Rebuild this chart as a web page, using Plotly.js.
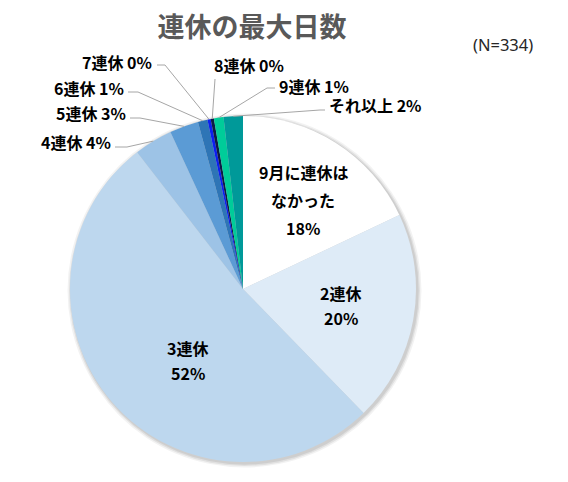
<!DOCTYPE html>
<html>
<head>
<meta charset="utf-8">
<script src="https://cdn.plot.ly/plotly-3.0.1.min.js"></script>
<style>html,body{margin:0;padding:0;background:#fff;}#chart{width:568px;height:482px;}</style>
</head>
<body>
<div id="chart"></div>
<script>
// ---- data ----
const categories = ["9月に連休はなかった", "2連休", "3連休", "4連休", "5連休", "6連休", "7連休", "8連休", "9連休", "それ以上"];
const counts = [60, 66, 173, 12, 9, 3, 1, 1, 3, 6];   // N=334
const sliceColors = ["#ffffff", "#deebf7", "#bdd7ee", "#9dc3e6", "#5b9bd5", "#2e75b6", "#0b1ff0", "#0d1b45", "#00cc99", "#009999"];
const displayLines = [["9月に連休は", "なかった"], ["2連休"], ["3連休"], ["4連休"], ["5連休"], ["6連休"], ["7連休"], ["8連休"], ["9連休"], ["それ以上"]];
const chartTitle = "連休の最大日数";
const sampleNote = "(N=334)";

// ---- layout geometry (pixels) ----
const W = 568, H = 482;
const CX = 243, CY = 289, R = 173;
const px = x => x / W;
const py = y => 1 - y / H;

const total = counts.reduce((a, b) => a + b, 0);
const pctText = v => Math.round(100 * v / total) + "%";
const midAngle = [];
let acc = 0;
counts.forEach(v => { midAngle.push(2 * Math.PI * (acc + v / 2) / total); acc += v; });
const ptAt = (i, f) => [CX + R * f * Math.sin(midAngle[i]), CY - R * f * Math.cos(midAngle[i])];

const FONT = "Noto Sans CJK JP, Noto Sans, sans-serif";
const LFS = 16;
const annotations = [];
const shapes = [];

// inside labels (multi-line, custom spacing)
const inside = [
  {i: 0, f: 0.62, dx: 3, dy: 2, gap: 28},
  {i: 1, f: 0.62, dx: -8, dy: -3, gap: 25},
  {i: 2, f: 0.62, dx: 26, dy: 1, gap: 25}
];
inside.forEach(o => {
  const [x0, y0] = ptAt(o.i, o.f);
  const lines = displayLines[o.i].concat([pctText(counts[o.i])]);
  const n = lines.length;
  lines.forEach((t, k) => {
    const y = y0 + o.dy + (k - (n - 1) / 2) * o.gap;
    annotations.push({xref: "paper", yref: "paper", x: px(x0 + o.dx), y: py(y), text: t, showarrow: false,
      xanchor: "center", yanchor: "middle", font: {family: FONT, size: LFS, color: "#000", weight: "bold"}});
  });
});

// outside labels with leader lines
const outside = [
  {i: 3, tx: 113, ty: 142, side: "right", elbow: [127, 147], end: [115, 147]},
  {i: 4, tx: 128, ty: 113, side: "right", elbow: [140, 118], end: [130, 118]},
  {i: 5, tx: 126, ty: 88, side: "right", elbow: [138, 92], end: [128, 92]},
  {i: 6, tx: 154, ty: 62, side: "right", elbow: [165, 65], end: [157, 65]},
  {i: 7, tx: 212, ty: 65, side: "left", elbow: [215, 79], end: [215, 79]},
  {i: 8, tx: 277, ty: 86, side: "left", elbow: [267, 88], end: [275, 88]},
  {i: 9, tx: 327, ty: 105, side: "left", elbow: [320, 110], end: [325, 110]}
];
outside.forEach(o => {
  const [ex, ey] = ptAt(o.i, 1.0);
  annotations.push({xref: "paper", yref: "paper", x: px(o.tx), y: py(o.ty),
    text: displayLines[o.i][0] + " " + pctText(counts[o.i]), showarrow: false,
    xanchor: o.side, yanchor: "middle", font: {family: FONT, size: LFS, color: "#000", weight: "bold"}});
  const p = "M " + px(ex) + "," + py(ey) + " L " + px(o.elbow[0]) + "," + py(o.elbow[1]) + " L " + px(o.end[0]) + "," + py(o.end[1]);
  shapes.push({type: "path", xref: "paper", yref: "paper", path: p, line: {color: "#a6a6a6", width: 1}, layer: "above"});
});

// soft shadow around the pie
[[4, "rgba(0,0,0,0.05)"], [2.5, "rgba(0,0,0,0.07)"], [1.2, "rgba(0,0,0,0.08)"]].forEach(([s, c]) => {
  shapes.push({type: "circle", xref: "paper", yref: "paper", layer: "below",
    x0: px(CX - R - s + 1.5), x1: px(CX + R + s + 1.5), y0: py(CY + R + s + 1.5), y1: py(CY - R - s + 1.5),
    fillcolor: c, line: {width: 0}});
});

annotations.push({xref: "paper", yref: "paper", x: px(471), y: py(44), text: sampleNote, showarrow: false,
  xanchor: "left", yanchor: "middle", font: {family: "Noto Sans, sans-serif", size: 16.5, color: "#262626"}});

const trace = {
  type: "pie",
  labels: categories,
  values: counts,
  sort: false,
  direction: "clockwise",
  rotation: 0,
  textinfo: "none",
  hoverinfo: "none",
  marker: {colors: sliceColors, line: {color: "#ffffff", width: 0}},
  domain: {x: [px(CX - R), px(CX + R)], y: [py(CY + R), py(CY - R)]},
  showlegend: false
};

const layout = {
  width: W, height: H,
  margin: {l: 0, r: 0, t: 0, b: 0},
  paper_bgcolor: "#ffffff",
  title: {text: chartTitle, x: px(252), xanchor: "center", y: py(28), yanchor: "middle", yref: "container", xref: "container",
    font: {family: FONT, size: 27, color: "#595959", weight: "bold"}},
  annotations: annotations,
  shapes: shapes,
  showlegend: false
};

Plotly.newPlot("chart", [trace], layout, {displayModeBar: false, staticPlot: true});
</script>
</body>
</html>
